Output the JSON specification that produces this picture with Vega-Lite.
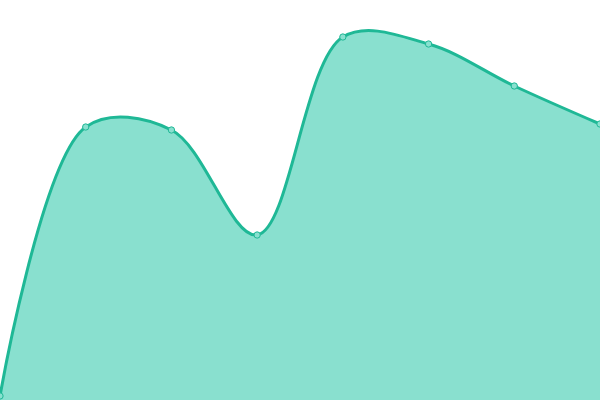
{
  "$schema": "https://vega.github.io/schema/vega-lite/v6.json",
  "autosize": {"type": "none"},
  "width": 600,
  "height": 400,
  "padding": 0,
  "background": "#ffffff",
  "data": {
    "values": [
      {"x": 0, "y": 4},
      {"x": 1, "y": 273},
      {"x": 2, "y": 270},
      {"x": 3, "y": 165},
      {"x": 4, "y": 363},
      {"x": 5, "y": 356},
      {"x": 6, "y": 314},
      {"x": 7, "y": 276}
    ]
  },
  "encoding": {
    "x": {"field": "x", "type": "quantitative", "axis": null, "scale": {"domain": [0, 7], "nice": false}},
    "y": {"field": "y", "type": "quantitative", "axis": null, "scale": {"domain": [0, 400], "nice": false}}
  },
  "layer": [
    {"mark": {"type": "area", "interpolate": "catmull-rom", "color": "#89e0cf", "opacity": 1}},
    {"mark": {"type": "line", "interpolate": "catmull-rom", "color": "#1fb896", "strokeWidth": 3}},
    {"mark": {"type": "point", "filled": true, "fill": "#89e0cf", "stroke": "#1fb896", "strokeWidth": 1, "size": 40, "opacity": 1}}
  ],
  "config": {"view": {"stroke": null}}
}
